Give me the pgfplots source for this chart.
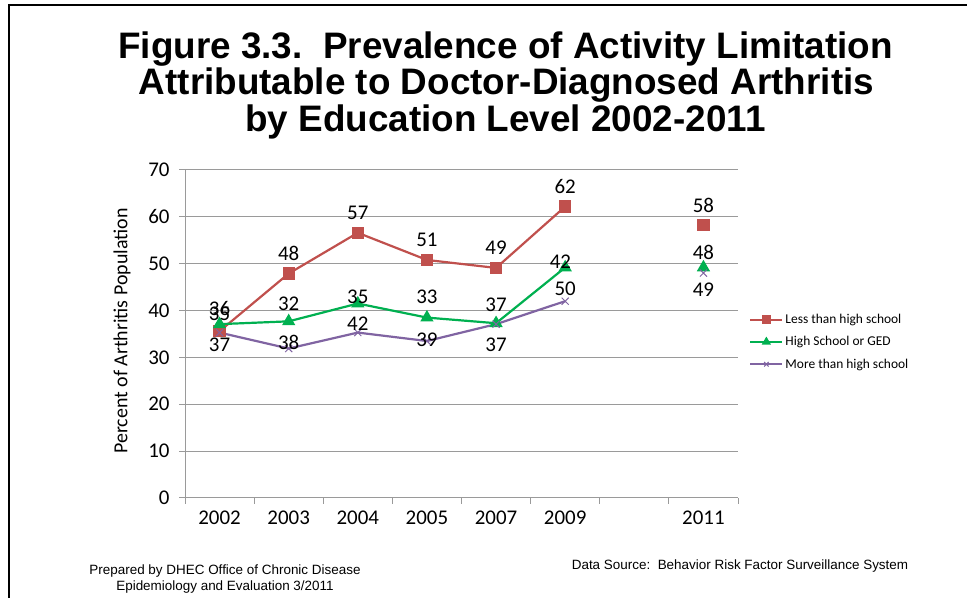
\documentclass[border=0pt]{standalone}
\usepackage{pgfplots}
\pgfplotsset{compat=1.18}
\usepackage{fontspec}
\setmainfont{Carlito}
\newfontfamily\arial{Liberation Sans}
\definecolor{cred}{HTML}{C0504D}
\definecolor{cgreen}{HTML}{00B050}
\definecolor{cpurple}{HTML}{8064A2}
\definecolor{cgrid}{HTML}{9A9A9A}
\begin{document}
\begin{tikzpicture}[x=1bp,y=1bp]
\useasboundingbox (0,0) rectangle (967,598);
\draw[line width=2.2bp] (9,0) -- (9,593) -- (967,593);
% title
\node[font=\arial\bfseries\fontsize{37}{37}\selectfont, anchor=base] at (505.5,598-58.5) {Figure 3.3.\ \ Prevalence of Activity Limitation};
\node[font=\arial\bfseries\fontsize{37}{37}\selectfont, anchor=base] at (506.5,598-95) {Attributable to Doctor-Diagnosed Arthritis};
\node[font=\arial\bfseries\fontsize{37}{37}\selectfont, anchor=base] at (505.5,598-131.5) {by Education Level 2002-2011};
% y label
\node[font=\fontsize{20}{20}\selectfont, rotate=90] at (122,598-331) {Percent of Arthritis Population};
% footer
\node[font=\arial\fontsize{13.5}{16}\selectfont, align=center] at (225,598-579) {Prepared by DHEC Office of Chronic Disease\\Epidemiology and Evaluation 3/2011};
\node[font=\arial\fontsize{13.5}{16}\selectfont] at (740,598-566) {Data Source:\ \ Behavior Risk Factor Surveillance System};
\begin{axis}[
  at={(185bp,100bp)}, anchor=south west,
  scale only axis, width=553bp, height=328bp,
  xmin=-0.5, xmax=7.5, ymin=0, ymax=70,
  ytick={0,10,...,70},
  xtick={-0.5,0.5,...,7.5}, xticklabels={},
  extra x ticks={0,1,2,3,4,5,7},
  extra x tick labels={2002,2003,2004,2005,2007,2009,2011},
  extra x tick style={major tick length=0pt, grid=none,
    xticklabel style={yshift=-9bp}},
  axis x line*=bottom, axis y line*=left,
  axis line style={cgrid, line width=1bp},
  tick style={cgrid, line width=1bp},
  tick align=outside, major tick length=6bp,
  ymajorgrids, grid style={cgrid, line width=1bp},
  ticklabel style={font=\fontsize{21}{21}\selectfont, text=black},
  yticklabel style={xshift=-6bp},
  /pgf/number format/assume math mode=true,
  unbounded coords=jump,
  clip=false,
  legend style={at={(1.02,0.567)}, anchor=north west, draw=none, fill=none,
    font=\fontsize{13.5}{14}\selectfont, row sep=7.5bp, inner sep=0pt,
    legend cell align=left},
  legend image code/.code={\draw[mark repeat=2, mark phase=2, mark size=3.2bp] plot coordinates {(0bp,0bp)(16bp,0bp)(32bp,0bp)};},
]
\addplot[cred, line width=2.2bp, mark=square*, mark size=5bp, mark options={solid}]
  coordinates {(0,35.6)(1,47.9)(2,56.6)(3,50.8)(4,49.1)(5,62.2)(6,nan)(7,58.3)};
\addlegendentry{Less than high school}
\addplot[cgreen, line width=2.2bp, mark=triangle*, mark size=5.5bp]
  coordinates {(0,37.1)(1,37.7)(2,41.5)(3,38.5)(4,37.3)(5,49.2)(6,nan)(7,49.2)};
\addlegendentry{High School  or GED}
\addplot[cpurple, line width=2.2bp, mark=x, mark size=5bp, mark options={line width=1bp}]
  coordinates {(0,35.3)(1,31.9)(2,35.3)(3,33.5)(4,37.1)(5,42.0)(6,nan)(7,48.0)};
\addlegendentry{More than high school}
% data labels
\addplot[draw=none, mark=none, forget plot, nodes near coords, point meta=explicit symbolic,
  nodes near coords align=center, every node near coord/.append style={font=\fontsize{21}{21}\selectfont, text=black}]
  coordinates {(0,40.5)[36] (1,52.1)[48] (2,60.8)[57] (3,55.1)[51] (4,53.5)[49] (5,66.4)[62] (7,62.5)[58]};
\addplot[draw=none, mark=none, forget plot, nodes near coords, point meta=explicit symbolic,
  nodes near coords align=center, every node near coord/.append style={font=\fontsize{21}{21}\selectfont, text=black}]
  coordinates {(0,39.3)[35] (1,41.4)[32] (2,43.0)[35] (3,42.9)[33] (4,41.2)[37] (4.93,50.4)[42] (7,52.3)[48]};
\addplot[draw=none, mark=none, forget plot, nodes near coords, point meta=explicit symbolic,
  nodes near coords align=center, every node near coord/.append style={font=\fontsize{21}{21}\selectfont, text=black}]
  coordinates {(0,32.7)[37] (1,33.1)[38] (2,37.1)[42] (3,33.7)[39] (4,32.8)[37] (5,44.7)[50] (7,44.5)[49]};
\end{axis}
\end{tikzpicture}
\end{document}
